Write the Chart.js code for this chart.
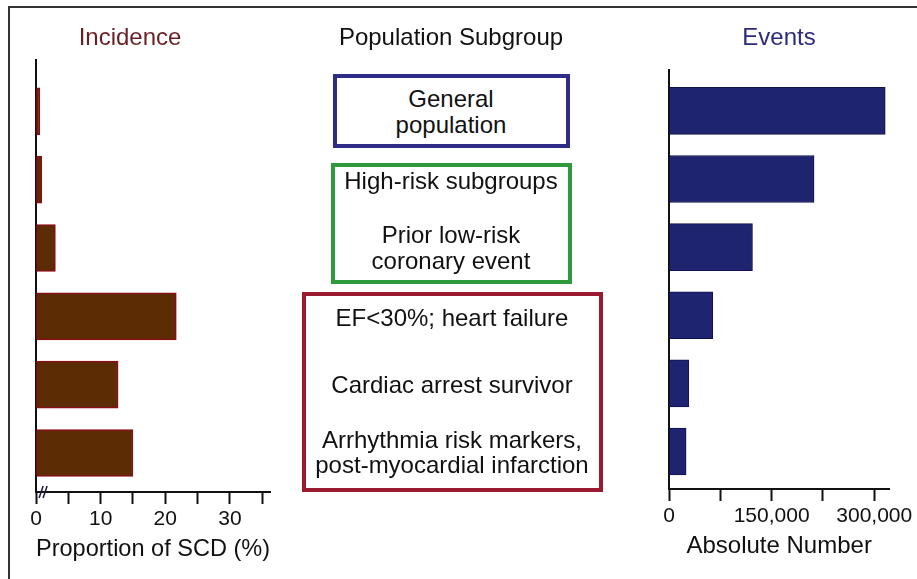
<!DOCTYPE html>
<html>
<head>
<meta charset="utf-8">
<script src="https://cdn.jsdelivr.net/npm/chart.js@4"></script>
<style>
  body { margin: 0; background: #fff; font-family: "Liberation Sans", Arial, sans-serif; }
  #page { position: relative; width: 917px; height: 579px; overflow: hidden; background: #fff; }
  #frame { position: absolute; left: 8px; top: 6px; width: 920px; height: 600px; border-left: 2px solid #333; border-top: 2px solid #333; }
  .chartBox { position: absolute; top: 0; height: 579px; }
  .title { position: absolute; font-size: 24px; transform: translate(-50%, -50%); white-space: nowrap; }
  .box { position: absolute; box-sizing: border-box; border: 4px solid; }
  .line { position: absolute; font-size: 24px; color: #111; transform: translate(-50%, -50%); white-space: nowrap; }
</style>
</head>
<body>
<div id="page">
  <div id="frame"></div>
  <div class="chartBox" style="left:0;width:300px"><canvas id="incidenceChart"></canvas></div>
  <div class="chartBox" style="left:600px;width:317px"><canvas id="eventsChart"></canvas></div>

  <div class="title" style="left:130px;top:37px;color:#6b1f22">Incidence</div>
  <div class="title" style="left:451px;top:37px;color:#111">Population Subgroup</div>
  <div class="title" style="left:779px;top:37px;color:#2b2a7c">Events</div>

  <div class="box" style="left:333px;top:74px;width:237px;height:74px;border-color:#2e2c86"></div>
  <div class="box" style="left:331px;top:163px;width:241px;height:121px;border-color:#2e9a3c"></div>
  <div class="box" style="left:302px;top:292px;width:301px;height:200px;border-color:#9a1b30"></div>

  <div class="line" style="left:451px;top:99px">General</div>
  <div class="line" style="left:451px;top:125px">population</div>
  <div class="line" style="left:451px;top:181px">High-risk subgroups</div>
  <div class="line" style="left:451px;top:235px">Prior low-risk</div>
  <div class="line" style="left:451px;top:261px">coronary event</div>
  <div class="line" style="left:452px;top:318px">EF&lt;30%; heart failure</div>
  <div class="line" style="left:452px;top:385px">Cardiac arrest survivor</div>
  <div class="line" style="left:452px;top:440px">Arrhythmia risk markers,</div>
  <div class="line" style="left:452px;top:465px">post-myocardial infarction</div>
</div>

<script>
// subgroups, top to bottom
const subgroups = [
    "General population",
    "High-risk subgroups",
    "Prior low-risk coronary event",
    "EF<30%; heart failure",
    "Cardiac arrest survivor",
    "Arrhythmia risk markers, post-myocardial infarction"
];
const incidence = [0.6, 0.9, 3.0, 21.7, 12.7, 15.0];          // % (proportion of SCD)
const events = [316000, 212000, 122000, 64000, 29000, 25000];  // absolute number

const incidenceTickMarks = [0, 5, 10, 15, 20, 25, 30, 35];
const incidenceTicks = [0, 10, 20, 30];
const eventsTickMarks = [0, 75000, 150000, 225000, 300000];
const eventsTicks = [0, 150000, 300000];

Chart.defaults.font.family = '"Liberation Sans", Arial, sans-serif';
Chart.defaults.color = '#111';

// small axis-break mark near 0 on the incidence axis
const breakMark = {
    id: 'breakMark',
    afterDraw(chart) {
        const ctx = chart.ctx;
        const x = chart.scales.x.getPixelForValue(1.1);
        const y = chart.chartArea.bottom;
        ctx.save();
        ctx.strokeStyle = '#1c1c3c';
        ctx.lineWidth = 1.5;
        ctx.beginPath();
        ctx.moveTo(x - 4, y + 6); ctx.lineTo(x, y - 6);
        ctx.moveTo(x, y + 6); ctx.lineTo(x + 4, y - 6);
        ctx.stroke();
        ctx.restore();
    }
};

function points(values) {
    return values.map((v, i) => ({ x: v, y: i }));
}

function makeChart(id, values, opts) {
    return new Chart(document.getElementById(id), {
        type: 'bar',
        data: {
            labels: subgroups,
            datasets: [{
                data: points(values),
                backgroundColor: opts.fill,
                borderColor: opts.edge,
                borderWidth: opts.edgeWidth,
                borderSkipped: false,
                barThickness: 47
            }]
        },
        options: {
            indexAxis: 'y',
            responsive: true,
            maintainAspectRatio: false,
            animation: false,
            layout: { padding: opts.padding },
            plugins: { legend: { display: false }, tooltip: { enabled: false } },
            scales: {
                x: {
                    min: 0,
                    max: opts.max,
                    afterBuildTicks: (s) => { s.ticks = opts.marks.map(v => ({ value: v })); },
                    ticks: {
                        autoSkip: false,
                        maxRotation: 0,
                        padding: 3,
                        font: { size: 21 },
                        color: '#111',
                        callback: (v) => opts.labels.includes(v) ? v.toLocaleString('en-US') : ''
                    },
                    grid: { display: true, drawOnChartArea: false, drawTicks: true, tickLength: 12, tickWidth: 2, tickColor: '#111' },
                    border: { display: true, color: '#111', width: 2 },
                    title: { display: true, text: opts.title, font: { size: 24 }, color: '#111', padding: { top: 0, bottom: 2 } }
                },
                y: {
                    type: 'linear',
                    bounds: 'data',
                    offset: false,
                    reverse: true,
                    min: opts.ymin,
                    max: opts.ymax,
                    ticks: { display: false },
                    grid: { display: false, drawTicks: false, offset: false },
                    border: { display: true, color: '#111', width: 2 }
                }
            }
        },
        plugins: opts.plugins || []
    });
}

makeChart('incidenceChart', incidence, {
    fill: '#5c2d04', edge: '#8a0c18', edgeWidth: 1.5,
    max: 36.2, marks: incidenceTickMarks, labels: incidenceTicks,
    title: 'Proportion of SCD (%)',
    ymin: -0.75, ymax: 5.57,
    padding: { left: 36, top: 60, right: 30, bottom: 13 },
    plugins: [breakMark]
});

makeChart('eventsChart', events, {
    fill: '#1f2471', edge: '#12134a', edgeWidth: 1,
    max: 322000, marks: eventsTickMarks, labels: eventsTicks,
    title: 'Absolute Number',
    ymin: -0.6, ymax: 5.55,
    padding: { left: 69, top: 70, right: 26, bottom: 16 }
});
</script>
</body>
</html>
